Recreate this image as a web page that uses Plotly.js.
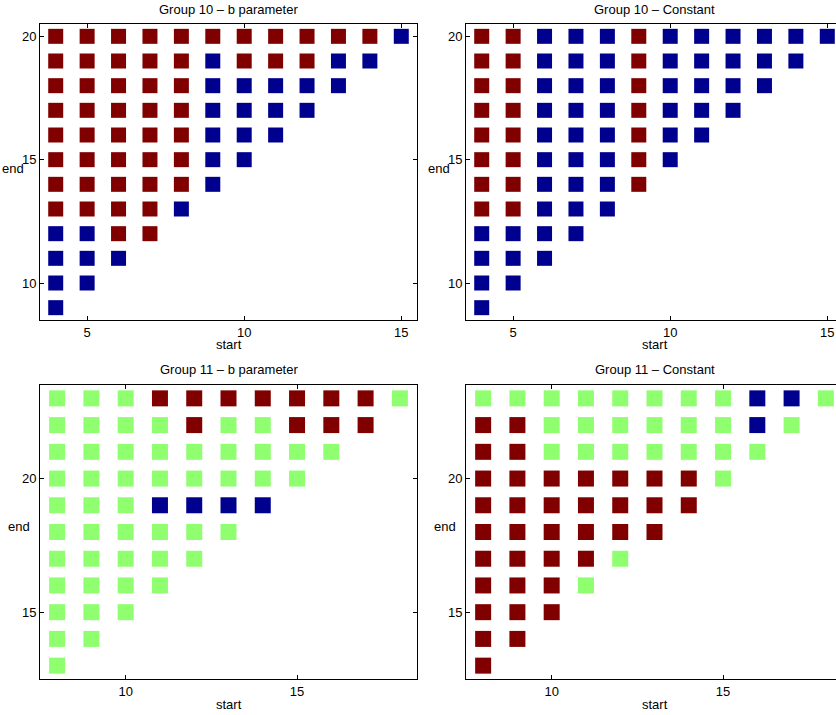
<!DOCTYPE html>
<html>
<head>
<meta charset="utf-8">
<script src="https://cdn.plot.ly/plotly-3.0.1.min.js"></script>
<style>
html,body{margin:0;padding:0;overflow:hidden;background:#fff;width:836px;height:715px;}
#chart{width:860px;height:715px;}
</style>
</head>
<body>
<div id="chart"></div>
<script>
// Codes: 1 = dark red, 0 = light green, -1 = dark blue
// Rows go from the top "end" value downward; each row starts at the first "start" value.
const group10Start0 = 4;
const group10EndTop = 20;
const group11Start0 = 8;
const group11EndTop = 23;

const g10b = [
  [1,1,1,1,1,1,1,1,1,1,1,-1],
  [1,1,1,1,1,-1,1,1,1,-1,-1],
  [1,1,1,1,1,-1,-1,-1,-1,-1],
  [1,1,1,1,1,-1,-1,-1,-1],
  [1,1,1,1,1,-1,-1,-1],
  [1,1,1,1,1,-1,-1],
  [1,1,1,1,1,-1],
  [1,1,1,1,-1],
  [-1,-1,1,1],
  [-1,-1,-1],
  [-1,-1],
  [-1]
];
const g10c = [
  [1,1,-1,-1,-1,1,-1,-1,-1,-1,-1,-1],
  [1,1,-1,-1,-1,1,-1,-1,-1,-1,-1],
  [1,1,-1,-1,-1,1,-1,-1,-1,-1],
  [1,1,-1,-1,-1,1,-1,-1,-1],
  [1,1,-1,-1,-1,1,-1,-1],
  [1,1,-1,-1,-1,1,-1],
  [1,1,-1,-1,-1,1],
  [1,1,-1,-1,-1],
  [-1,-1,-1,-1],
  [-1,-1,-1],
  [-1,-1],
  [-1]
];
const g11b = [
  [0,0,0,1,1,1,1,1,1,1,0],
  [0,0,0,0,1,0,0,1,1,1],
  [0,0,0,0,0,0,0,0,0],
  [0,0,0,0,0,0,0,0],
  [0,0,0,-1,-1,-1,-1],
  [0,0,0,0,0,0],
  [0,0,0,0,0],
  [0,0,0,0],
  [0,0,0],
  [0,0],
  [0]
];
const g11c = [
  [0,0,0,0,0,0,0,0,-1,-1,0],
  [1,1,0,0,0,0,0,0,-1,0],
  [1,1,0,0,0,0,0,0,0],
  [1,1,1,1,1,1,1,0],
  [1,1,1,1,1,1,1],
  [1,1,1,1,1,1],
  [1,1,1,1,0],
  [1,1,1,0],
  [1,1,1],
  [1,1],
  [1]
];

const panelTitles = ["Group 10 \u2013 b parameter","Group 10 \u2013 Constant","Group 11 \u2013 b parameter","Group 11 \u2013 Constant"];
const xLabel = "start";
const yLabel = "end";

const COLORS = {"1":"#800000","0":"#8FFF70","-1":"#00008F"};

function flatten(rows, s0, eTop){
  const x=[],y=[],c=[];
  rows.forEach((row,i)=>{
    row.forEach((v,j)=>{
      x.push(s0+j); y.push(eTop-i); c.push(COLORS[String(v)]);
    });
  });
  return {x,y,c};
}

const W=860,H=715;
const fx=p=>p/W, fy=p=>1-p/H;
const colX=[[40,417],[466,843]];
const rowY=[[24,320],[385,679]];

const panels=[
  {d:g10b,s0:group10Start0,e:group10EndTop,col:0,row:0,size:15},
  {d:g10c,s0:group10Start0,e:group10EndTop,col:1,row:0,size:15},
  {d:g11b,s0:group11Start0,e:group11EndTop,col:0,row:1,size:16},
  {d:g11c,s0:group11Start0,e:group11EndTop,col:1,row:1,size:16}
];

const traces=[];
const layout={
  width:W,height:H,margin:{l:0,r:0,t:0,b:0},
  paper_bgcolor:'#fff',plot_bgcolor:'#fff',showlegend:false,
  font:{family:'Liberation Sans, Arial, sans-serif',size:13,color:'#000'},
  annotations:[]
};
const titleY=[9.5,369.5], startY=[344.5,704.5];
panels.forEach((p,k)=>{
  const f=flatten(p.d,p.s0,p.e);
  const xa='x'+(k+1), ya='y'+(k+1);
  traces.push({type:'scatter',mode:'markers',x:f.x,y:f.y,xaxis:xa,yaxis:ya,
    marker:{symbol:'square',size:p.size,color:f.c,line:{width:0}},hoverinfo:'skip'});
  const nx=p.d[0].length, ny=p.d.length;
  const common={showline:true,linecolor:'#000',linewidth:1,mirror:'ticks',ticks:'inside',ticklen:4,
    tickcolor:'#000',showgrid:false,zeroline:false,tick0:0,dtick:5,tickfont:{size:13,color:'#000'}};
  layout['xaxis'+(k===0?'':k+1)]=Object.assign({},common,{
    domain:[fx(colX[p.col][0]),fx(colX[p.col][1])],anchor:ya,
    range:[p.s0-0.5,p.s0+nx-0.5]});
  layout['yaxis'+(k===0?'':k+1)]=Object.assign({},common,{
    domain:[fy(rowY[p.row][1]),fy(rowY[p.row][0])],anchor:xa,
    range:[p.e-ny+0.5,p.e+0.5]});
  const cx=(colX[p.col][0]+colX[p.col][1])/2;
  layout.annotations.push({xref:'paper',yref:'paper',x:fx(cx),y:fy(titleY[p.row]),text:panelTitles[k],
    showarrow:false,xanchor:'center',yanchor:'middle',font:{size:13}});
  layout.annotations.push({xref:'paper',yref:'paper',x:fx(cx),y:fy(startY[p.row]),text:xLabel,
    showarrow:false,xanchor:'center',yanchor:'middle',font:{size:13}});
  const endY=p.row===0?168:526;
  const endDx=p.row===0?27:21;
  layout.annotations.push({xref:'paper',yref:'paper',x:fx(colX[p.col][0]-endDx),y:fy(endY),text:yLabel,
    showarrow:false,xanchor:'center',yanchor:'middle',font:{size:13}});
});

Plotly.newPlot('chart',traces,layout,{staticPlot:true,displayModeBar:false});
</script>
</body>
</html>
